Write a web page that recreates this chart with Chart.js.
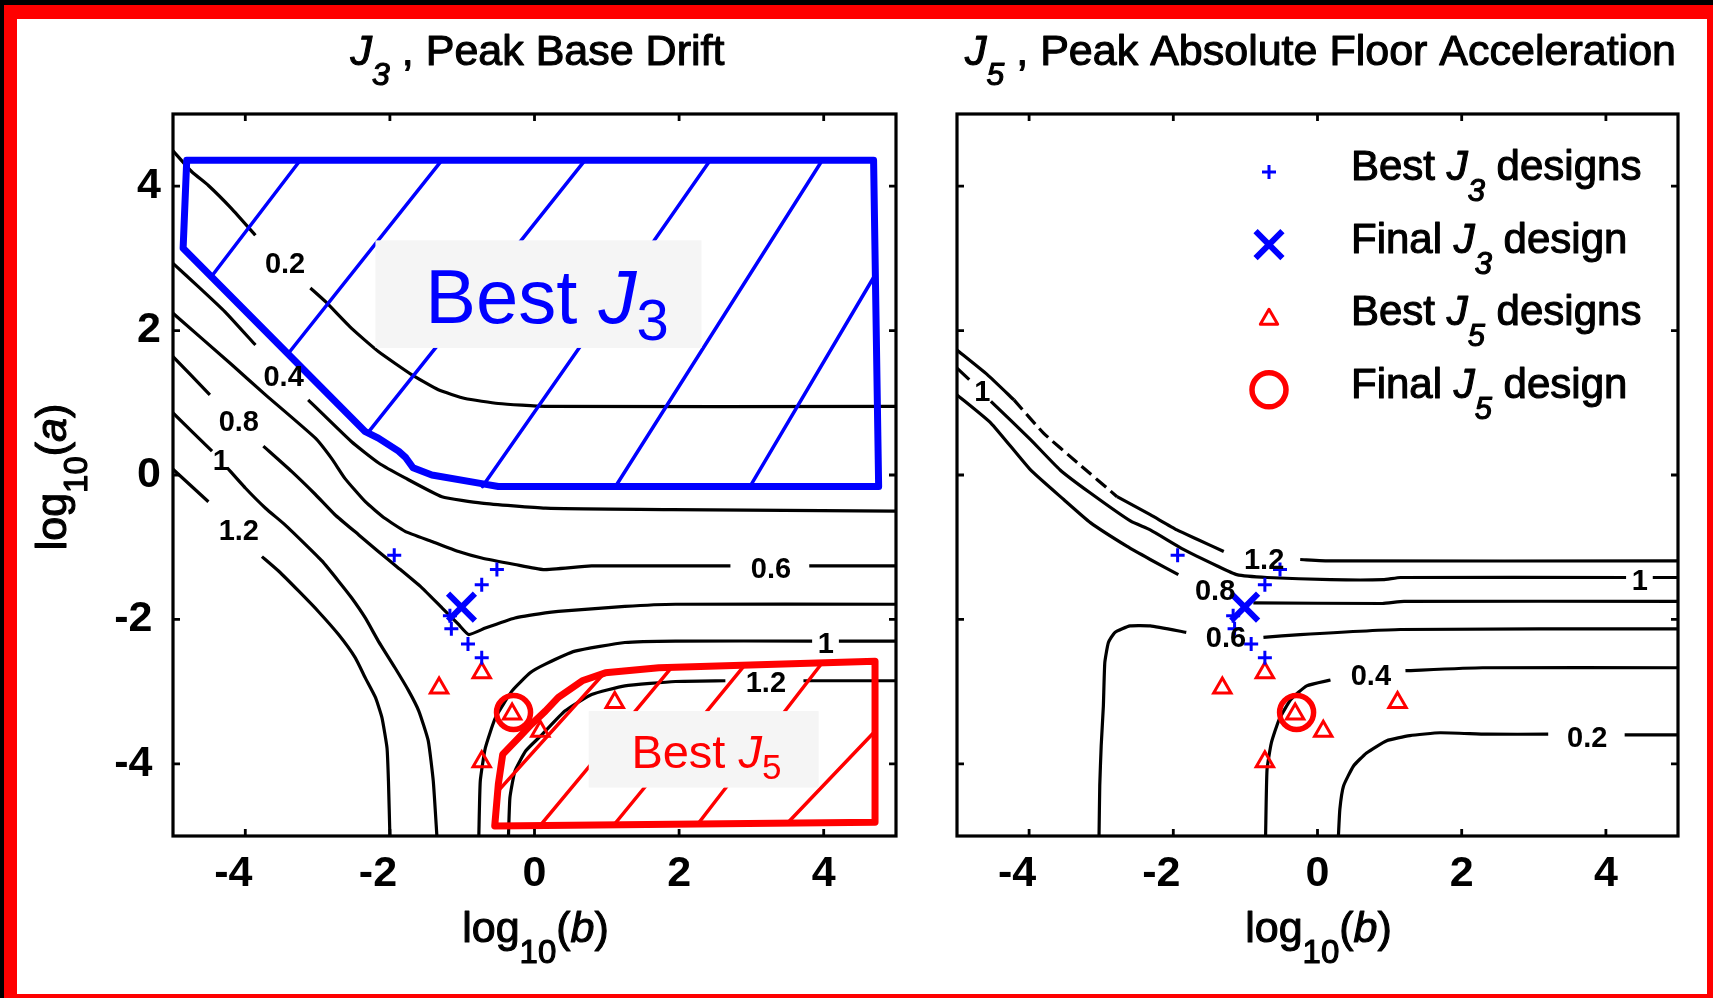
<!DOCTYPE html>
<html>
<head>
<meta charset="utf-8">
<title>J3 / J5 design space</title>
<script src="https://cdn.jsdelivr.net/npm/chart.js@4.4.1/dist/chart.umd.min.js"></script>
<style>
  html, body { margin: 0; padding: 0; background: #000; width: 1713px; height: 998px; overflow: hidden; }
  #frame { position: absolute; left: 4px; top: 5px; width: 1709px; height: 993px; background: #ff0000; }
  #paper { position: absolute; left: 17px; top: 19px; width: 1690px; height: 975px; background: #ffffff; }
  canvas { position: absolute; left: 0; top: 0; }
</style>
</head>
<body>
<div id="frame"></div>
<div id="paper"></div>
<canvas id="drift" width="1713" height="998"></canvas>
<canvas id="accel" width="1713" height="998"></canvas>
<script>
// ---------- axis ticks ----------
const tickValues = [-4, -2, 0, 2, 4];

// ---------- J3 (peak base drift) contour paths, [log10(b), log10(a)]; null = label gap ----------
const j3Level02 = [[-5,4.49],[-4.74,4.20],[-4.51,4.01],[-4.19,3.69],[-3.86,3.32],null,[-3.10,2.59],[-2.89,2.40],[-2.53,2.03],[-2.16,1.71],[-1.70,1.39],[-1.33,1.18],[-0.96,1.06],[-0.50,0.99],[0.15,0.95],[5,0.95]];
const j3Level04 = [[-5,2.93],[-4.65,2.61],[-4.28,2.26],[-3.86,1.80],null,[-3.13,1.04],[-2.53,0.46],[-2.16,0.17],[-1.79,-0.04],[-1.28,-0.30],[-0.73,-0.39],[0.15,-0.46],[1.9,-0.48],[5,-0.50]];
const j3Level06 = [[-5,2.24],[-4.19,1.53],[-3.72,1.11],[-3.03,0.51],[-2.8,0.22],[-2.62,-0.05],[-2.34,-0.37],[-2.07,-0.60],[-1.79,-0.78],[-1.42,-0.92],[-1.05,-1.06],[-0.73,-1.15],[-0.27,-1.24],[0.12,-1.31],[0.79,-1.26],[2.71,-1.26],null,[3.80,-1.26],[5,-1.26]];
const j3Level08 = [[-5,1.64],[-4.49,1.11],null,[-3.75,0.40],[-3.36,0.05],[-3.03,-0.27],[-2.76,-0.55],[-2.43,-0.83],[-2.16,-1.06],[-1.88,-1.29],[-1.56,-1.56],[-1.28,-1.84],[-1.05,-2.07],[-0.91,-2.21],[-0.68,-2.12],[-0.27,-1.98],[0.15,-1.91],[0.33,-1.89],[1.25,-1.82],[1.95,-1.79],[5,-1.79]];
const j3Level10 = [[-5,0.86],[-4.46,0.33],null,[-4.25,0.10],[-4.0,-0.18],[-3.72,-0.46],[-3.45,-0.69],[-3.17,-0.96],[-2.94,-1.19],[-2.71,-1.47],[-2.53,-1.70],[-2.34,-1.98],[-2.16,-2.30],[-1.93,-2.67],[-1.74,-2.99],[-1.60,-3.27],[-1.47,-3.68],[-1.40,-4.24],[-1.35,-5]];
const j3Level12 = [[-5,0.08],[-4.51,-0.37],null,[-3.77,-1.13],[-3.54,-1.33],[-3.26,-1.61],[-2.99,-1.89],[-2.71,-2.21],[-2.48,-2.53],[-2.34,-2.81],[-2.20,-3.08],[-2.11,-3.36],[-2.04,-3.78],[-2.02,-4.24],[-2.0,-5]];
const j3Level10Low = [[-0.77,-5],[-0.75,-4.24],[-0.68,-3.78],[-0.54,-3.36],[-0.31,-2.99],[-0.06,-2.74],[0.15,-2.62],[0.56,-2.44],[1.25,-2.32],[1.95,-2.30],[3.84,-2.30],null,[4.21,-2.30],[5,-2.30]];
const j3Level12Low = [[-0.36,-5],[-0.34,-4.47],[-0.27,-4.10],[-0.12,-3.82],[0.10,-3.60],[0.42,-3.27],[0.79,-3.04],[1.25,-2.92],[1.95,-2.86],[2.64,-2.85],null,[3.72,-2.85],[5,-2.85]];
const j3LabelLevels = [0.2, 0.4, 0.8, 1, 1.2, 0.6, 1, 1.2];
const j3LabelAt = [[-3.45,2.91],[-3.47,1.35],[-4.09,0.72],[-4.34,0.18],[-4.09,-0.79],[3.27,-1.31],[4.03,-2.35],[3.20,-2.89]];

// ---------- J5 (peak absolute floor acceleration) contour paths ----------
const j5Level12Head = [[-5,1.73],[-4.58,1.39],[-4.21,1.04]];
const j5Level12Broken = [[-4.21,1.04],[-3.80,0.58],[-3.33,0.17],[-2.78,-0.30]];
const j5Level12Tail = [[-2.78,-0.30],[-2.32,-0.55],[-1.95,-0.76],[-1.67,-0.89],[-1.30,-1.06],null,[-0.24,-1.17],[0.18,-1.19],[5,-1.19]];
const j5Level10 = [[-5,1.48],[-4.83,1.32],null,[-4.53,1.02],[-3.98,0.49],[-3.57,0.07],[-3.15,-0.25],[-2.59,-0.64],[-2.32,-0.76],[-1.86,-1.03],[-1.39,-1.26],[-1.12,-1.38],[-0.70,-1.42],[0.18,-1.45],[0.91,-1.45],[1.15,-1.42],[4.28,-1.42],null,[4.65,-1.42],[5,-1.42]];
const j5Level08 = [[-5,1.11],[-4.53,0.72],[-3.98,0.07],[-3.52,-0.34],[-3.15,-0.66],[-2.64,-0.99],[-2.32,-1.17],[-1.93,-1.38],null,[-0.89,-1.77],[0.9,-1.78],[1.2,-1.75],[5,-1.75]];
const j5Level06 = [[-3.03,-5],[-3.02,-4.3],[-3.0,-3.75],[-2.97,-3.2],[-2.95,-2.6],[-2.9,-2.32],[-2.81,-2.18],[-2.6,-2.09],[-2.32,-2.09],[-1.82,-2.18],null,[-0.75,-2.25],[-0.24,-2.21],[1.15,-2.14],[5,-2.13]];
const j5Level04 = [[-0.72,-5],[-0.70,-4.08],[-0.64,-3.71],[-0.53,-3.38],[-0.37,-3.11],[-0.15,-2.92],[0.18,-2.84],null,[1.22,-2.71],[2.29,-2.67],[5,-2.67]];
const j5Level02 = [[0.29,-5],[0.31,-4.63],[0.36,-4.31],[0.50,-4.03],[0.68,-3.85],[0.96,-3.68],[1.28,-3.61],[1.70,-3.57],[2.35,-3.59],[3.20,-3.59],null,[4.26,-3.60],[5,-3.60]];
const j5LabelLevels = [1, 1.2, 0.8, 0.6, 1, 0.4, 0.2];
const j5LabelAt = [[-4.65,1.13],[-0.74,-1.19],[-1.42,-1.62],[-1.27,-2.27],[4.47,-1.48],[0.74,-2.80],[3.74,-3.65]];

// ---------- candidate designs ----------
const j3BestDesigns = [[-1.94,-1.11],[-0.52,-1.31],[-0.73,-1.52],[-1.17,-1.95],[-1.15,-2.13],[-0.92,-2.34],[-0.73,-2.53]];
const j3FinalDesign = [[-1.01,-1.83]];
const j5BestDesigns = [[-0.73,-2.74],[-1.32,-2.95],[-0.31,-3.31],[0.08,-3.55],[1.11,-3.15],[-0.73,-3.97]];
const j5FinalDesign = [[-0.29,-3.29]];

// ---------- hatched regions ----------
const bestJ3Region = [[-4.81,4.36],[4.69,4.36],[4.76,-0.16],[-0.5,-0.16],[-0.73,-0.12],[-1.42,0.0],[-1.68,0.10],[-1.78,0.24],[-1.88,0.33],[-2.16,0.51],[-2.34,0.60],[-4.86,3.14],[-4.81,4.36]];
const bestJ3Hatch = [
  [[-3.24,4.36],[-4.46,2.76]], [[-1.28,4.36],[-3.40,1.69]], [[0.70,4.36],[-2.30,0.59]],
  [[2.43,4.36],[-0.72,-0.16]], [[3.98,4.36],[1.12,-0.16]], [[4.71,2.77],[2.98,-0.16]]
];
const bestJ5Region = [[-0.55,-4.86],[4.71,-4.81],[4.71,-2.58],[1.72,-2.67],[0.98,-2.74],[0.66,-2.85],[0.33,-3.08],[0.15,-3.27],[-0.04,-3.45],[-0.22,-3.64],[-0.44,-3.87],[-0.50,-4.28],[-0.55,-4.86]];
const bestJ5Hatch = [
  [[-0.48,-4.35],[0.95,-2.76]], [[0.10,-4.83],[1.90,-2.66]], [[1.12,-4.82],[2.91,-2.63]],
  [[2.27,-4.82],[3.98,-2.60]], [[3.51,-4.81],[4.71,-3.55]]
];

// ---------- styling ----------
const FONT = '"Liberation Sans", Arial, Helvetica, sans-serif';
const BLUE = '#0000ff';
const RED = '#ff0000';
const font = (size, style) => (style ? style + ' ' : '') + size + 'px ' + FONT;

const toPoints = arr => arr.map(p => p ? { x: p[0], y: p[1] } : { x: null, y: null });

function contour(path, dash) {
  return {
    data: toPoints(path), showLine: true, borderColor: '#000', borderWidth: 3.2,
    pointRadius: 0, pointHoverRadius: 0, tension: 0.15, clip: 0, order: 5,
    borderDash: dash || [], borderJoinStyle: 'round', spanGaps: false
  };
}
function outline(path, color, width, order) {
  return {
    data: toPoints(path), showLine: true, borderColor: color, borderWidth: width,
    pointRadius: 0, pointHoverRadius: 0, tension: 0, clip: 0, order: order,
    borderJoinStyle: 'round', borderCapStyle: 'round'
  };
}
function markers(label, pts, style, radius, width, color) {
  return {
    label: label, data: toPoints(pts), showLine: false, pointStyle: style,
    pointRadius: radius, pointHoverRadius: radius, borderWidth: width, pointBorderWidth: width,
    borderColor: color, pointBorderColor: color,
    backgroundColor: 'rgba(0,0,0,0)', pointBackgroundColor: 'rgba(0,0,0,0)', order: 1
  };
}
function designMarkers() {
  return [
    markers('Best J3 designs', j3BestDesigns, 'cross', 7, 3, BLUE),
    markers('Final J3 design', j3FinalDesign, 'crossRot', 19, 6, BLUE),
    markers('Best J5 designs', j5BestDesigns, 'triangle', 10, 3, RED),
    markers('Final J5 design', j5FinalDesign, 'circle', 17, 5.5, RED)
  ];
}

// text made of runs with their own font and baseline shift; heavy adds a thin outline
function drawRich(ctx, parts, x, y, align, heavy) {
  let total = 0;
  parts.forEach(p => { ctx.font = p.font; p.w = ctx.measureText(p.t).width; total += p.w; });
  let cx = align === 'center' ? x - total / 2 : x;
  ctx.textAlign = 'left';
  ctx.textBaseline = 'alphabetic';
  if (heavy) { ctx.strokeStyle = ctx.fillStyle; ctx.lineWidth = heavy; ctx.lineJoin = 'round'; }
  parts.forEach(p => {
    ctx.font = p.font;
    ctx.fillText(p.t, cx, y + (p.dy || 0));
    if (heavy) ctx.strokeText(p.t, cx, y + (p.dy || 0));
    cx += p.w;
  });
}
function jParts(prefix, digit, suffix, size, subSize, subDy, subStyle) {
  const parts = [];
  if (prefix) parts.push({ t: prefix, font: font(size) });
  parts.push({ t: 'J', font: font(size, 'italic') });
  parts.push({ t: digit, font: font(subSize, subStyle), dy: subDy });
  if (suffix) parts.push({ t: suffix, font: font(size) });
  return parts;
}
function logParts(v) {
  return [
    { t: 'log', font: font(43) },
    { t: '10', font: font(33), dy: 21 },
    { t: '(', font: font(43) },
    { t: v, font: font(43, 'italic') },
    { t: ')', font: font(43) }
  ];
}

function decor(spec) {
  return {
    id: 'decor',
    afterDatasetsDraw(chart) {
      const { ctx, scales: { x, y } } = chart;
      ctx.save();
      ctx.fillStyle = '#000';
      ctx.font = font(29, 'bold');
      ctx.textAlign = 'center';
      ctx.textBaseline = 'middle';
      spec.levels.forEach((lv, i) => {
        ctx.fillText(String(lv), x.getPixelForValue(spec.labelAt[i][0]), y.getPixelForValue(spec.labelAt[i][1]));
      });
      (spec.tags || []).forEach(tag => {
        const x0 = x.getPixelForValue(tag.box[0]), x1 = x.getPixelForValue(tag.box[2]);
        const y0 = y.getPixelForValue(tag.box[1]), y1 = y.getPixelForValue(tag.box[3]);
        ctx.fillStyle = '#f5f5f5';
        ctx.fillRect(Math.min(x0, x1), Math.min(y0, y1), Math.abs(x1 - x0), Math.abs(y1 - y0));
        ctx.fillStyle = tag.color;
        drawRich(ctx, tag.parts, x.getPixelForValue(tag.at[0]), y.getPixelForValue(tag.at[1]), 'left', 0);
      });
      ctx.restore();
    },
    afterDraw(chart) {
      const { ctx, chartArea: ca, scales: { x, y } } = chart;
      ctx.save();
      // box with inward ticks on all four sides
      ctx.strokeStyle = '#000';
      ctx.lineWidth = 2.8;
      ctx.lineCap = 'butt';
      ctx.beginPath();
      x.ticks.forEach(t => {
        const px = x.getPixelForValue(t.value);
        ctx.moveTo(px, ca.bottom); ctx.lineTo(px, ca.bottom - 7);
        ctx.moveTo(px, ca.top); ctx.lineTo(px, ca.top + 7);
      });
      y.ticks.forEach(t => {
        const py = y.getPixelForValue(t.value);
        ctx.moveTo(ca.left, py); ctx.lineTo(ca.left + 7, py);
        ctx.moveTo(ca.right, py); ctx.lineTo(ca.right - 7, py);
      });
      ctx.stroke();
      ctx.lineWidth = 3.2;
      ctx.strokeRect(ca.left, ca.top, ca.right - ca.left, ca.bottom - ca.top);

      const cx = (ca.left + ca.right) / 2;
      const cy = (ca.top + ca.bottom) / 2;
      ctx.fillStyle = '#000';
      // title
      drawRich(ctx, jParts('', spec.titleDigit, ' , ' + spec.titleText, 43, 32, 20, 'italic'), cx + 3, ca.top - 49, 'center', 1.1);
      // x axis title
      ctx.fillStyle = '#000';
      drawRich(ctx, logParts('b'), cx + 1, ca.bottom + 106, 'center', 1.1);
      // y axis title
      if (spec.yTitle) {
        ctx.save();
        ctx.translate(66, cy + 2);
        ctx.rotate(-Math.PI / 2);
        ctx.fillStyle = '#000';
        drawRich(ctx, logParts('a'), 0, 0, 'center', 1.1);
        ctx.restore();
      }
      // legend built from the marker datasets
      if (spec.legend) {
        const mx = ca.left + 312, tx = ca.left + 394;
        let base = ca.top + 66;
        chart.data.datasets.filter(d => d.label).forEach(d => {
          const m = d.label.match(/^(.*)J(\d)(.*)$/);
          ctx.strokeStyle = d.borderColor;
          ctx.fillStyle = 'rgba(0,0,0,0)';
          ctx.lineWidth = d.borderWidth;
          const dy = d.pointStyle === 'triangle' ? -6 : -8;
          Chart.helpers.drawPoint(ctx, { pointStyle: d.pointStyle, radius: d.pointRadius, rotation: 0, borderWidth: d.borderWidth }, mx, base + dy);
          ctx.fillStyle = '#000';
          drawRich(ctx, jParts(m[1], m[2], m[3], 42, 31, 21, 'italic'), tx, base, 'left', 1.1);
          base += 72.6;
        });
      }
      ctx.restore();
    }
  };
}

function scalesFor(showY, yWidth) {
  const tickFont = { family: FONT, size: 43, weight: 'bold' };
  return {
    x: {
      type: 'linear', min: -5, max: 5,
      afterBuildTicks: s => { s.ticks = tickValues.map(v => ({ value: v })); },
      afterFit: s => { s.height = 100; },
      grid: { display: false, drawTicks: false },
      border: { display: false },
      ticks: {
        font: tickFont, color: '#000', padding: 12, maxRotation: 0, autoSkip: false,
        callback: v => v < 0 ? v + '\u2007' : String(v)
      }
    },
    y: {
      type: 'linear', min: -5, max: 5,
      afterBuildTicks: s => { s.ticks = tickValues.map(v => ({ value: v })); },
      afterFit: s => { s.width = yWidth; },
      grid: { display: false, drawTicks: false },
      border: { display: false },
      ticks: {
        display: showY, font: tickFont, color: '#000', padding: 12, autoSkip: false,
        callback: v => v < 0 ? v + '\u2009' : String(v)
      }
    }
  };
}

const baseOptions = (padding, scales) => ({
  responsive: false, animation: false, events: [],
  layout: { padding: padding },
  plugins: { legend: { display: false }, tooltip: { enabled: false } },
  scales: scales
});

// left panel: peak base drift with the two preferred regions
const driftDatasets = [
  ...designMarkers(),
  outline(bestJ3Region, BLUE, 7, 2),
  outline(bestJ5Region, RED, 7, 2),
  ...bestJ3Hatch.map(s => outline(s, BLUE, 3.5, 3)),
  ...bestJ5Hatch.map(s => outline(s, RED, 3.5, 3)),
  ...[j3Level02, j3Level04, j3Level06, j3Level08, j3Level10, j3Level12, j3Level10Low, j3Level12Low].map(p => contour(p))
];
new Chart(document.getElementById('drift'), {
  type: 'scatter',
  data: { datasets: driftDatasets },
  options: baseOptions({ left: 73, right: 817, top: 114, bottom: 62 }, scalesFor(true, 100)),
  plugins: [decor({
    titleDigit: '3', titleText: 'Peak Base Drift', yTitle: true, legend: false,
    levels: j3LabelLevels, labelAt: j3LabelAt,
    tags: [
      { box: [-2.20, 3.25, 2.31, 1.76], at: [-1.51, 2.11], color: BLUE, parts: jParts('Best ', '3', '', 76, 58, 17, '') },
      { box: [0.75, -3.27, 3.93, -4.33], at: [1.34, -4.06], color: RED, parts: jParts('Best ', '5', '', 47, 35, 11, '') }
    ]
  })]
});

// right panel: peak absolute floor acceleration with the legend
const accelDatasets = [
  ...designMarkers(),
  ...[j5Level12Head, j5Level12Tail, j5Level10, j5Level08, j5Level06, j5Level04, j5Level02].map(p => contour(p)),
  contour(j5Level12Broken, [13, 6])
];
new Chart(document.getElementById('accel'), {
  type: 'scatter',
  data: { datasets: accelDatasets },
  options: baseOptions({ left: 957, right: 35, top: 114, bottom: 62 }, scalesFor(false, 0)),
  plugins: [decor({
    titleDigit: '5', titleText: 'Peak Absolute Floor Acceleration', yTitle: false, legend: true,
    levels: j5LabelLevels, labelAt: j5LabelAt
  })]
});
</script>
</body>
</html>
